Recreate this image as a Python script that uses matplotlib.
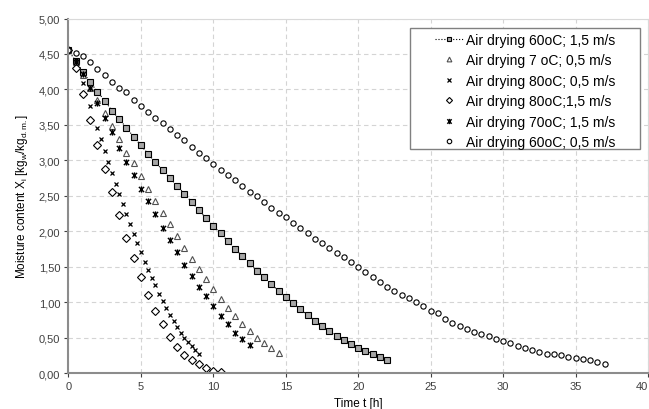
import numpy as np
import matplotlib.pyplot as plt
from matplotlib.path import Path
from matplotlib.patches import Rectangle
from matplotlib.ticker import FuncFormatter

plt.rcParams['font.family'] = ['Liberation Sans', 'DejaVu Sans']

# 60oC; 1,5 m/s  (squares, dotted line)
t_sq = np.arange(0, 22.01, 0.5)
x_sq = [4.55, 4.40, 4.25, 4.10, 3.97, 3.84, 3.70, 3.58, 3.46, 3.33,
        3.21, 3.09, 2.97, 2.86, 2.75, 2.64, 2.53, 2.41, 2.30, 2.18,
        2.07, 1.97, 1.86, 1.75, 1.65, 1.55, 1.44, 1.35, 1.25, 1.16,
        1.07, 0.99, 0.90, 0.82, 0.74, 0.66, 0.59, 0.52, 0.46, 0.41,
        0.35, 0.31, 0.27, 0.23, 0.19]

# 7 oC; 0,5 m/s  (triangles)
t_tri = np.arange(0, 14.51, 0.5)
x_tri = [4.55, 4.38, 4.20, 4.02, 3.85, 3.67, 3.48, 3.30, 3.11, 2.96,
         2.78, 2.60, 2.43, 2.26, 2.10, 1.93, 1.77, 1.61, 1.46, 1.32,
         1.18, 1.05, 0.92, 0.80, 0.69, 0.59, 0.50, 0.42, 0.35, 0.28]

# 80oC; 0,5 m/s  (x)
t_x = [0, 0.5, 1.0, 1.5, 2.0, 2.25, 2.5, 2.75, 3.0, 3.25, 3.5, 3.75,
       4.0, 4.25, 4.5, 4.75, 5.0, 5.25, 5.5, 5.75, 6.0, 6.25, 6.5,
       6.75, 7.0, 7.25, 7.5, 7.75, 8.0, 8.25, 8.5, 8.75, 9.0]
x_x = [4.55, 4.42, 4.09, 3.76, 3.45, 3.30, 3.13, 2.97, 2.82, 2.67, 2.53,
       2.38, 2.24, 2.10, 1.96, 1.83, 1.70, 1.57, 1.45, 1.34, 1.24, 1.12,
       1.02, 0.92, 0.82, 0.73, 0.65, 0.57, 0.50, 0.44, 0.38, 0.32, 0.27]

# 80oC; 1,5 m/s  (diamonds)
t_dia = np.arange(0, 10.51, 0.5)
x_dia = [4.55, 4.30, 3.94, 3.57, 3.22, 2.88, 2.55, 2.23, 1.91, 1.62,
         1.35, 1.10, 0.87, 0.69, 0.51, 0.36, 0.26, 0.18, 0.13, 0.07,
         0.03, 0.01]

# 70oC; 1,5 m/s  (star)
t_st = np.arange(0, 12.51, 0.5)
x_st = [4.55, 4.38, 4.22, 4.02, 3.81, 3.59, 3.40, 3.18, 2.98, 2.79,
        2.60, 2.42, 2.24, 2.05, 1.88, 1.70, 1.53, 1.37, 1.22, 1.08,
        0.94, 0.81, 0.69, 0.57, 0.48, 0.40]

# 60oC; 0,5 m/s  (circles)
t_ci = np.arange(0, 37.01, 0.5)
x_ci = [4.55, 4.51, 4.47, 4.39, 4.29, 4.20, 4.11, 4.02, 3.96, 3.85,
        3.76, 3.68, 3.59, 3.52, 3.44, 3.36, 3.28, 3.19, 3.11, 3.03,
        2.95, 2.87, 2.79, 2.72, 2.64, 2.56, 2.49, 2.41, 2.33, 2.26,
        2.20, 2.11, 2.05, 1.97, 1.89, 1.83, 1.76, 1.69, 1.63, 1.56,
        1.49, 1.42, 1.35, 1.29, 1.22, 1.16, 1.10, 1.06, 1.00, 0.95,
        0.88, 0.84, 0.76, 0.71, 0.67, 0.62, 0.58, 0.55, 0.52, 0.48,
        0.45, 0.42, 0.38, 0.35, 0.32, 0.29, 0.27, 0.27, 0.25, 0.23,
        0.21, 0.20, 0.18, 0.16, 0.13]

labels = ["Air drying 60oC; 1,5 m/s", "Air drying 7 oC; 0,5 m/s",
          "Air drying 80oC; 0,5 m/s", "Air drying 80oC;1,5 m/s",
          "Air drying 70oC; 1,5 m/s", "Air drying 60oC; 0,5 m/s"]

# X with a vertical bar (Excel "star" marker)
star = Path([(-1, -1), (1, 1), (-1, 1), (1, -1), (0, -1.2), (0, 1.2)],
            [Path.MOVETO, Path.LINETO, Path.MOVETO, Path.LINETO,
             Path.MOVETO, Path.LINETO])

fig = plt.figure(figsize=(6.49, 4.10), dpi=100)
ax = fig.add_axes([0.1055, 0.0878, 0.8930, 0.8646])

ax.plot(t_sq, x_sq, ls=':', lw=0.8, color='black', marker='s', ms=4,
        mfc='#a6a6a6', mec='black', mew=0.8, label=labels[0])
ax.plot(t_tri, x_tri, ls='none', marker='^', ms=4, mfc='white',
        mec='#505050', mew=0.8, label=labels[1])
ax.plot(t_x, x_x, ls='none', marker='x', ms=3.5, mec='black', mew=0.9,
        label=labels[2])
ax.plot(t_dia, x_dia, ls='none', marker='D', ms=3.6, mfc='white',
        mec='black', mew=0.8, label=labels[3])
ax.plot(t_st, x_st, ls='none', marker=star, ms=4.5, mfc='none',
        mec='black', mew=1.0, label=labels[4])
ax.plot(t_ci, x_ci, ls='none', marker='o', ms=3.8, mfc='white',
        mec='black', mew=0.8, label=labels[5])

ax.set_xlim(0, 40)
ax.set_ylim(0, 5)
ax.set_xticks(np.arange(0, 41, 5))
ax.set_yticks(np.arange(0, 5.01, 0.5))
ax.yaxis.set_major_formatter(FuncFormatter(lambda v, p: f"{v:.2f}".replace('.', ',')))
ax.tick_params(labelsize=8, colors='#404040', length=3, width=0.8,
               direction='out', pad=3)
# last x label sits at the figure edge; keep it inside
ax.get_xticklabels()[-1].set_horizontalalignment('right')

ax.grid(True, ls=(0, (4, 3)), color='#d4d4d4', lw=0.8)
ax.set_axisbelow(True)
for s in ['top', 'right']:
    ax.spines[s].set_color('#d9d9d9')
    ax.spines[s].set_linewidth(0.8)
for s in ['left', 'bottom']:
    ax.spines[s].set_color('#8c8c8c')
    ax.spines[s].set_linewidth(1.5)

ax.set_xlabel("Time t [h]", fontsize=8.5, labelpad=4)
ax.set_ylabel(r"Moisture content X$_\mathregular{i}$ [kg$_\mathregular{w}$/kg$_\mathregular{d.m.}$]",
              fontsize=8.5, labelpad=6)

# legend entries; frame drawn separately so it has the wide left margin
leg = ax.legend(loc='upper right', bbox_to_anchor=(0.951, 0.972), fontsize=10,
                frameon=False, handlelength=2.0, handletextpad=0.25,
                labelspacing=0.47, borderpad=0.3, borderaxespad=0,
                markerscale=0.85)
frame = Rectangle((0.589, 0.632), 0.398, 0.340, transform=ax.transAxes,
                  facecolor='white', edgecolor='#808080', lw=1.0, zorder=4.9)
ax.add_patch(frame)
leg.set_zorder(5)

fig.savefig("out.png", dpi=100)
